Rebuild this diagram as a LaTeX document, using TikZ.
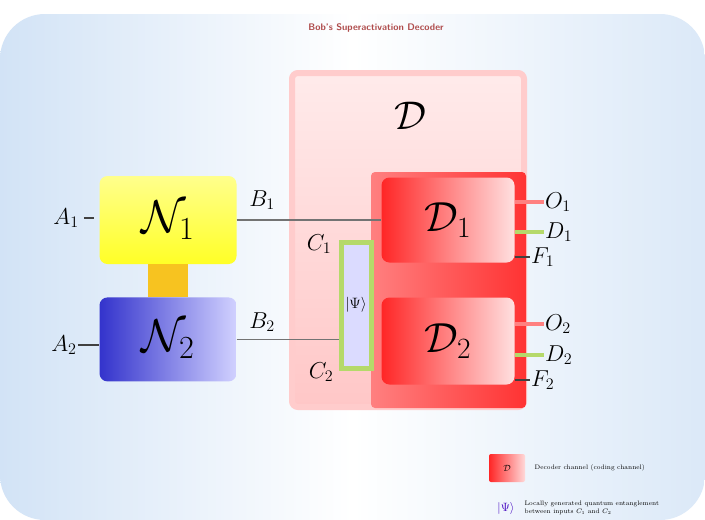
\documentclass[tikz,border=0pt]{standalone}
\usepackage{fix-cm}
\usepackage{amsmath,amssymb}
\usepackage{xcolor}
\definecolor{skyback}{HTML}{D2E3F6}
\definecolor{linkyel}{HTML}{F7C320}
\definecolor{outgreen}{HTML}{B5D96A}
\usetikzlibrary{positioning,calc}

\begin{document}
\begin{tikzpicture}[x=1pt,y=-1pt,
  chan/.style={rounded corners=8pt,minimum width=137pt,minimum height=88pt,inner sep=0pt,font=\fontsize{46}{50}\selectfont},
  dec/.style={rounded corners=8pt,minimum width=133pt,minimum height=85pt,inner sep=0pt,left color=red!85,right color=red!12,font=\fontsize{42}{46}\selectfont},
  lab/.style={font=\fontsize{23}{25}\selectfont,inner sep=1pt},
  wire/.style={draw=black!55,line width=1.4pt},
  outln/.style={line width=4pt}]
\useasboundingbox (0,0) rectangle (705,520);
% background
\fill[white] (0,0) rectangle (705,520);
\shade[rounded corners=45pt,left color=skyback,right color=skyback!80,middle color=white] (0,14) rectangle (705,520);
\node[font=\sffamily\bfseries\fontsize{9.5}{11}\selectfont,text=red!55!black!70] (title) at (376,28) {Bob's Superactivation Decoder};
% decoder
\node[draw=red!20,line width=6pt,top color=red!8,bottom color=red!22,rounded corners=6pt,minimum width=232pt,minimum height=334pt] (d) at (408,240) {};
\node[font=\fontsize{40}{44}\selectfont] (dname) at (410,116) {$\mathcal{D}$};
\shade[left color=red!50,right color=red!80,rounded corners=4pt] (371,172) rectangle (526,408);
\node[dec] (d1) at (448,220) {$\mathcal{D}_1$};
\node[dec,minimum height=87pt] (d2) at (448,341) {$\mathcal{D}_2$};
\node[draw=outgreen,line width=5pt,fill=blue!14,minimum width=30pt,minimum height=126pt,inner sep=0pt,font=\fontsize{15}{16}\selectfont] (psi) at (356,305) {$|\Psi\rangle$};
% channels
\node[chan,top color=yellow!45,bottom color=yellow!85] (n1) at (168,220) {$\mathcal{N}_1$};
\node[chan,minimum height=84pt,left color=blue!60!gray,right color=blue!18,below=33pt of n1] (n2) {$\mathcal{N}_2$};
\draw[linkyel,line width=40pt] (n1.south) -- (n2.north);
% inputs
\node[lab] (a1) at (66,218) {$A_1$};
\node[lab] (a2) at (64,345) {$A_2$};
\draw[wire,draw=black!75,shorten <=4pt,shorten >=5pt] (a1.east) -- (a1.east -| n1.west);
\draw[wire,draw=black!75] (a2.east) -- (a2.east -| n2.west);
\node[lab] (b1) at (262,200) {$B_1$};
\node[lab] (b2) at (262,322) {$B_2$};
\draw[wire] (n1.east) -- (d1.west);
\draw[wire] (n2.east) -- (n2.east -| psi.west);
\node[lab] (c1) at (319,244) {$C_1$};
\node[lab] (c2) at (321,372) {$C_2$};
% outputs
\node[lab,anchor=west] (o1) at (544,202) {$O_1$};
\node[lab,anchor=west] (dd1) at (544,232) {$D_1$};
\node[lab,anchor=west] (f1) at (530,257) {$F_1$};
\node[lab,anchor=west] (o2) at (544,324) {$O_2$};
\node[lab,anchor=west] (dd2) at (544,355) {$D_2$};
\node[lab,anchor=west] (f2) at (530,380) {$F_2$};
\draw[outln,red!50] (d1.east |- o1.west) -- (o1.west);
\draw[outln,outgreen] (d1.east |- dd1.west) -- (dd1.west);
\draw[wire,draw=black!75] (d1.east |- f1.west) -- (f1.west);
\draw[outln,red!50] (d2.east |- o2.west) -- (o2.west);
\draw[outln,outgreen] (d2.east |- dd2.west) -- (dd2.west);
\draw[wire,draw=black!75] (d2.east |- f2.west) -- (f2.west);
% legend
\node[left color=red!85,right color=red!15,rounded corners=2pt,minimum width=36pt,minimum height=28pt,font=\fontsize{9}{10}\selectfont] (legd) at (507,468) {$\mathcal{D}$};
\node[anchor=west,font=\fontsize{6.5}{7.5}\selectfont,right=6pt of legd] (legdtxt) {Decoder channel (coding channel)};
\node[text=blue!50!violet,font=\fontsize{12}{13}\selectfont] (legpsi) at (506,508) {$|\Psi\rangle$};
\node[anchor=west,align=left,font=\fontsize{6.5}{7.5}\selectfont,right=3pt of legpsi] (legpsitxt) {Locally generated quantum entanglement\\between inputs $C_1$ and $C_2$};
\end{tikzpicture}
\end{document}
